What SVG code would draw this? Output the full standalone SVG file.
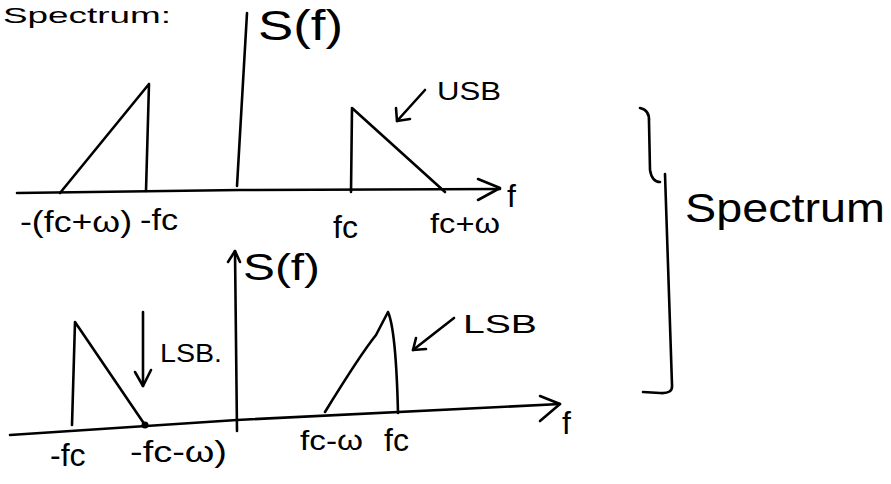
<svg xmlns="http://www.w3.org/2000/svg" width="891" height="484" viewBox="0 0 891 484">
<style>
.ln{fill:none;stroke:#000;stroke-width:2.6;stroke-linecap:round;stroke-linejoin:round}
.t{font-family:"Liberation Sans","DejaVu Sans",sans-serif;fill:#000}
</style>
<rect width="891" height="484" fill="#fff"/>
<text class="t" x="3" y="23" font-size="22" textLength="168" lengthAdjust="spacingAndGlyphs">Spectrum:</text>
<g id="top-spectrum">
  <g id="top-axis">
    <path class="ln" d="M17,193 L240,190 L500,189"/>
    <path class="ln" d="M478,179 L500,188 L478,200"/>
    <path class="ln" d="M247,13 L237,186"/>
    <text class="t" x="258" y="40" font-size="42" textLength="85" lengthAdjust="spacingAndGlyphs">S(f)</text>
    <text class="t" x="507" y="207" font-size="32">f</text>
  </g>
  <g id="top-left-band">
    <path class="ln" d="M60,193 L149,84 L146,191"/>
  </g>
  <g id="top-right-band">
    <path class="ln" d="M351,192 L352,108 L445,192"/>
  </g>
  <g id="usb-label">
    <path class="ln" d="M425,90 L397,121"/>
    <path class="ln" d="M396,108 L397,121 L410,119"/>
    <text class="t" x="437" y="100" font-size="26" textLength="64" lengthAdjust="spacingAndGlyphs">USB</text>
  </g>
  <g id="top-ticks">
    <text class="t" x="20" y="232" font-size="30" textLength="112" lengthAdjust="spacingAndGlyphs">-(fc+ω)</text>
    <text class="t" x="140" y="230" font-size="30" textLength="38" lengthAdjust="spacingAndGlyphs">-fc</text>
    <text class="t" x="333" y="238" font-size="32">fc</text>
    <text class="t" x="430" y="233" font-size="28" textLength="70" lengthAdjust="spacingAndGlyphs">fc+ω</text>
  </g>
</g>
<g id="bottom-spectrum">
  <g id="bottom-axis">
    <path class="ln" d="M10,435 L237,420 L500,407 L560,404"/>
    <path class="ln" d="M540,396 L560,404 L540,421"/>
    <path class="ln" d="M237,431 L235,251"/>
    <path class="ln" d="M228,262 L235,251 L240,262"/>
    <text class="t" x="243" y="280" font-size="36" textLength="77" lengthAdjust="spacingAndGlyphs">S(f)</text>
    <text class="t" x="562" y="434" font-size="32">f</text>
  </g>
  <g id="bottom-left-band">
    <path class="ln" d="M72,425 L75,322 L145,425"/>
    <circle cx="145" cy="425" r="3.5" fill="#000"/>
  </g>
  <g id="bottom-right-band">
    <path class="ln" d="M325,412 Q360,355 376,335 L388,312 Q396,330 398,413"/>
  </g>
  <g id="lsb-left-label">
    <path class="ln" d="M143,312 L143,386"/>
    <path class="ln" d="M135,372 L143,386 L151,370"/>
    <text class="t" x="160" y="362" font-size="26" textLength="62" lengthAdjust="spacingAndGlyphs">LSB.</text>
  </g>
  <g id="lsb-right-label">
    <path class="ln" d="M454,318 L413,350"/>
    <path class="ln" d="M416,338 L413,350 L426,349"/>
    <text class="t" x="463" y="333" font-size="26" textLength="74" lengthAdjust="spacingAndGlyphs">LSB</text>
  </g>
  <g id="bottom-ticks">
    <text class="t" x="50" y="466" font-size="32">-fc</text>
    <text class="t" x="130" y="462" font-size="30" textLength="97" lengthAdjust="spacingAndGlyphs">-fc-ω)</text>
    <text class="t" x="300" y="450" font-size="28" textLength="63" lengthAdjust="spacingAndGlyphs">fc-ω</text>
    <text class="t" x="384" y="451" font-size="32">fc</text>
  </g>
</g>
<g id="brace">
  <path class="ln" d="M640,108 Q650,110 649,122 L650,170 Q652,182 660,182"/>
  <path class="ln" d="M665,174 L672,385 Q673,394 660,393 L643,392"/>
  <text class="t" x="685" y="222" font-size="40" textLength="200" lengthAdjust="spacingAndGlyphs">Spectrum</text>
</g>
</svg>
